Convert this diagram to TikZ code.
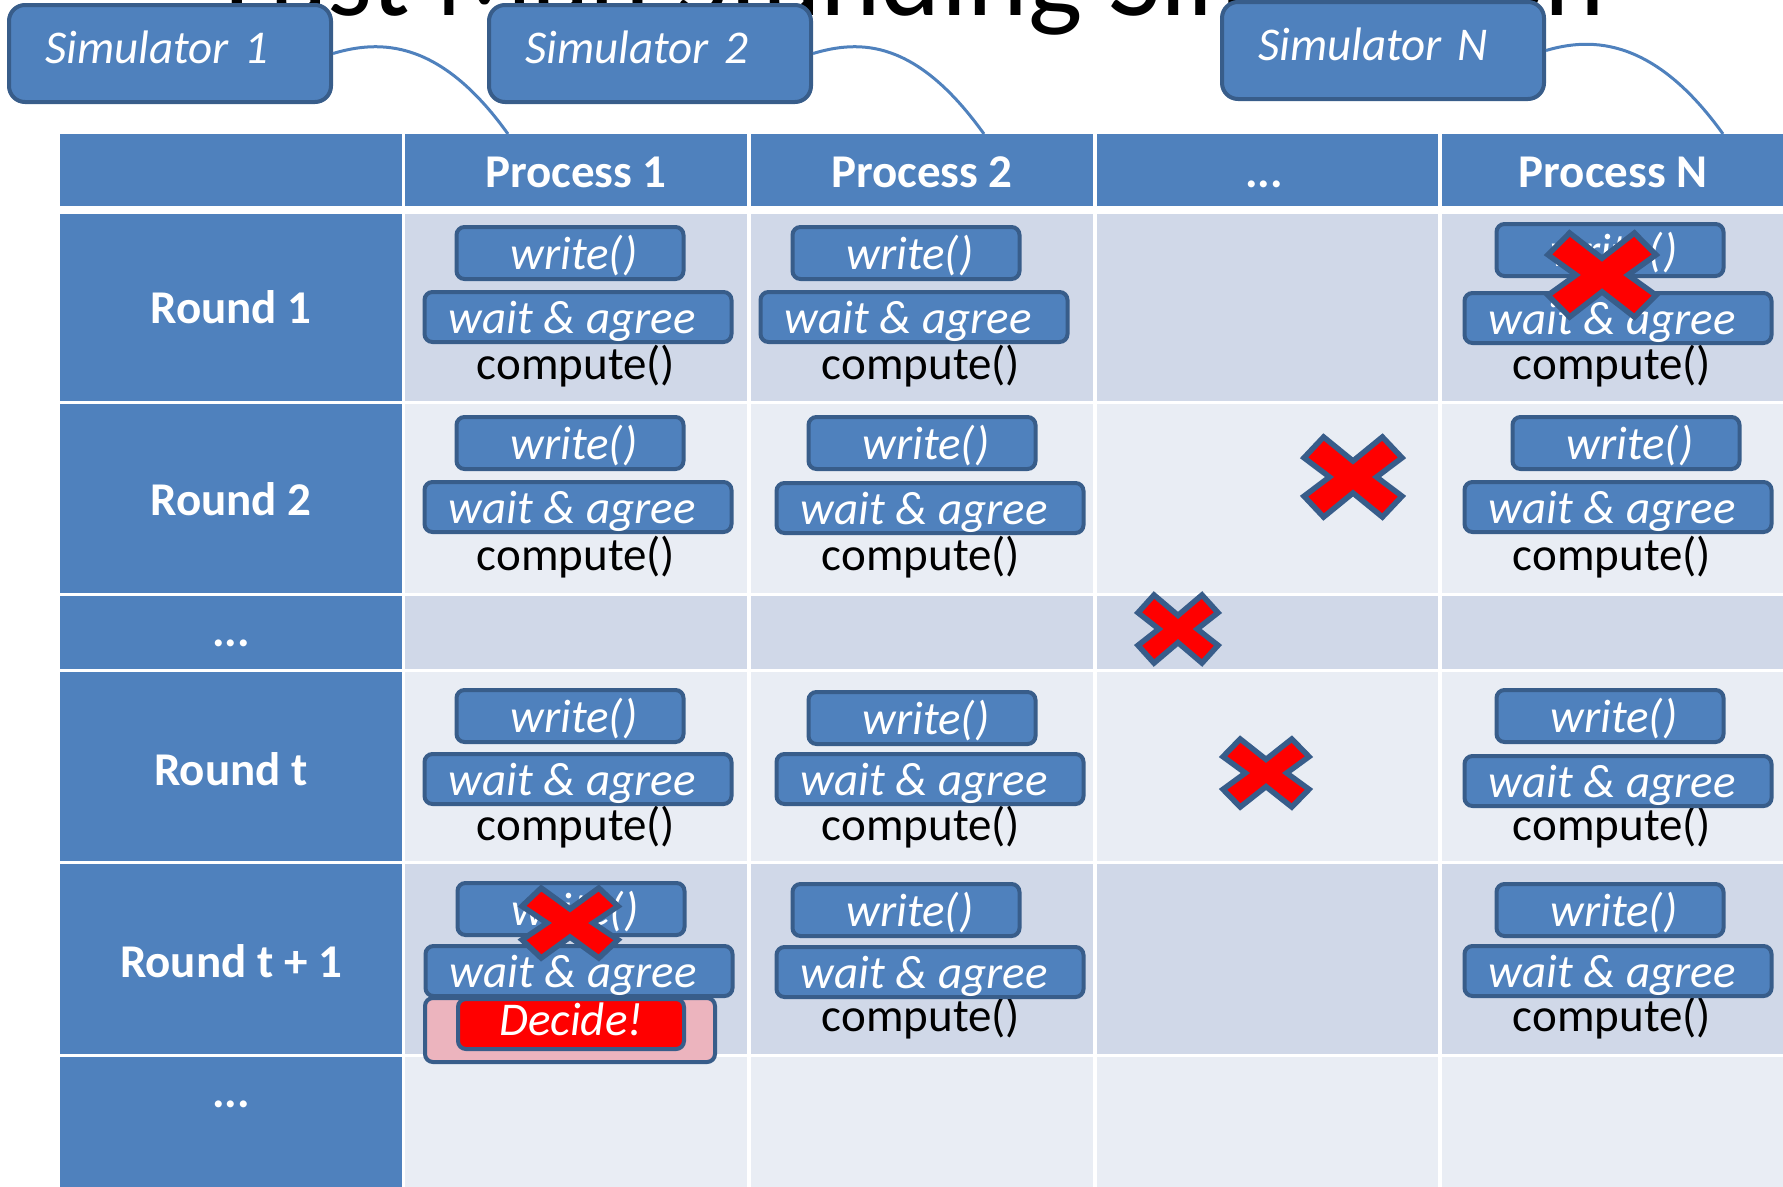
\documentclass[tikz,border=0pt]{standalone}
\usepackage{fontspec}
\setmainfont{Carlito}
\definecolor{hdrblue}{RGB}{79,129,189}
\definecolor{edgeblue}{RGB}{56,93,138}
\definecolor{banddark}{RGB}{208,216,232}
\definecolor{bandlight}{RGB}{233,237,244}
\definecolor{decidepink}{RGB}{236,180,190}
\newcommand{\cellfont}{\fontsize{47}{56}\selectfont}
\newcommand{\tridots}{...}
\tikzset{failmark/.pic={
  \filldraw[failstyle] (-1,-0.48) -- (-0.6,-1) -- (0,-0.4) -- (0.6,-1) -- (1,-0.48) -- (0.48,0)
    -- (1,0.48) -- (0.6,1) -- (0,0.4) -- (-0.6,1) -- (-1,0.48) -- (-0.48,0) -- cycle;
}}
\begin{document}
\begin{tikzpicture}[x=1pt,y=-1pt,
  every node/.style={inner sep=0pt, font=\cellfont},
  simbox/.style={draw=edgeblue, fill=hdrblue, line width=4pt, rounded corners=16pt,
    minimum height=97pt, text width=250pt, inner xsep=36pt, align=left,
    text=white, font=\cellfont\itshape, text height=31pt, text depth=12pt},
  callbox/.style={draw=edgeblue, fill=hdrblue, line width=4pt, rounded corners=8pt,
    text=white, font=\cellfont\itshape, text height=36pt, text depth=4pt},
  writebox/.style={callbox, minimum width=227pt, minimum height=52pt,
    execute at begin node=\hspace*{8pt}},
  waitbox/.style={callbox, minimum width=307pt, minimum height=50pt,
    execute at end node=\hspace*{12pt}},
  celltext/.style={text height=35pt, text depth=11pt},
  headtext/.style={celltext, text=white, font=\cellfont\bfseries},
  simlink/.style={draw=hdrblue, line width=3pt},
  failstyle/.style={fill=red, draw=edgeblue, line width=5.5pt, line join=miter},
]
\useasboundingbox (0,0) rectangle (1783,1186);
\clip (0,0) rectangle (1783,1186);

% title, mostly cut off
\node[anchor=base west, font=\fontsize{115}{138}\selectfont] (title) at (224,15) {Last Man Standing Simulation};

% table
\foreach \xa/\xb in {60/402, 405/747, 751/1093, 1097/1438, 1442/1790}
  \fill[hdrblue] (\xa,134) rectangle (\xb,206);
\foreach \ya/\yb/\bandcol in {214/401/banddark, 404/593/bandlight, 596/669/banddark,
    672/861/bandlight, 864/1054/banddark, 1057/1190/bandlight}
{
  \fill[hdrblue] (60,\ya) rectangle (402,\yb);
  \foreach \xa/\xb in {405/747, 751/1093, 1097/1438, 1442/1790}
    \fill[\bandcol] (\xa,\ya) rectangle (\xb,\yb);
}

\node[headtext] (h1) at (576,175) {Process 1};
\node[headtext] (h2) at (922,175) {Process 2};
\node[headtext] (h3) at (1264,175) {\tridots};
\node[headtext] (h4) at (1613,175) {Process N};

\foreach \y/\lbl [count=\i] in {311/Round 1, 503/Round 2, 634/\tridots, 773/Round t, 965/Round t + 1, 1095/\tridots}
  \node[headtext] (r\i) at (231,\y) {\lbl};

% simulators
\node[simbox] (sim1) at (170,53.5) {Simulator 1};
\node[simbox] (sim2) at (650,53.5) {Simulator 2};
\node[simbox] (simN) at (1383,50.5) {Simulator N};

\coordinate (tp1) at (508,134);
\coordinate (tp2) at (984,134);
\coordinate (tpN) at (1723,134);
\draw[simlink] (sim1.east) .. controls +(47,-14) and +(-68,-95) .. (tp1);
\draw[simlink] (sim2.east) .. controls +(47,-14) and +(-68,-95) .. (tp2);
\draw[simlink] (simN.east) .. controls +(47,-14) and +(-68,-95) .. (tpN);

% cells
\foreach \cid/\wx/\wy/\ax/\ay/\cx/\cy in {
  11/570/253/578/317/576/367,
  12/570/443/578/507/576/558,
  1t/570/716/578/779/576/828,
  21/906/253/914/317/921/367,
  22/922/443/930/508/921/558,
  2t/922/718/930/779/921/828,
  2u/906/910/930/972/921/1019,
  41/1610/250/1618/318/1612/367,
  42/1626/443/1618/507/1612/558,
  4t/1610/716/1618/781/1612/828,
  4u/1610/910/1618/971/1612/1019}
{
  \node[celltext] (c\cid) at (\cx,\cy) {compute()};
  \node[writebox] (w\cid) at (\wx,\wy) {write()};
  \node[waitbox] (a\cid) at (\ax,\ay) {wait \& agree};
}

% process 1 decides
\node[writebox] (w1u) at (571,909) {write()};
\node[waitbox] (a1u) at (579,971) {wait \& agree};
\node[draw=edgeblue, fill=decidepink, line width=4pt, rounded corners=8pt,
  minimum width=290pt, minimum height=64pt] (dbox) at (570,1030) {};
\node[callbox, fill=red, minimum width=226pt, minimum height=50pt,
  text height=33pt, text depth=11pt] (decide) at (571,1024) {Decide!};

% crashed processes
\pic[shift={(1602,275)}, xscale=54, yscale=42] {failmark};
\pic[shift={(1353,477)}, xscale=49, yscale=40] {failmark};
\pic[shift={(1178,629)}, xscale=40, yscale=34] {failmark};
\pic[shift={(1266,773)}, xscale=43, yscale=34] {failmark};
\pic[shift={(570,923)}, xscale=48, yscale=35] {failmark};
\end{tikzpicture}
\end{document}
